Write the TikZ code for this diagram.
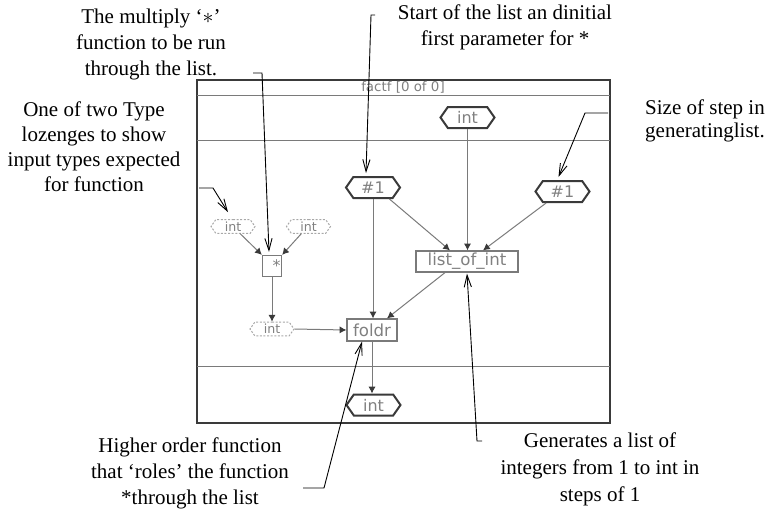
\documentclass[tikz,border=0pt]{standalone}
\usepackage{fontspec}
\setmainfont{Liberation Serif}
\newfontfamily\fcsans{DejaVu Sans}
\usetikzlibrary{calc,positioning,arrows.meta,shapes.symbols}
\definecolor{fcline}{HTML}{7A7A7A}
\definecolor{fcdark}{HTML}{3A3A3A}
\definecolor{fctext}{HTML}{808080}
\definecolor{fcdash}{HTML}{A8A8A8}
\tikzset{
 fc frame/.style={draw=fcdark,line width=.6pt},
 fc rule/.style={draw=fcline,line width=.5pt},
 fc lozenge/.style={signal,signal to=east and west,signal pointer angle=110,
                    draw=fcdark,line width=1pt,inner sep=0pt,
                    minimum width=27pt,minimum height=10.5pt,
                    font=\fcsans\fontsize{8}{9}\selectfont,text=fctext},
 fc type/.style={signal,signal to=east and west,signal pointer angle=110,
                 draw=fcdash,dash pattern=on 1pt off .8pt,line width=.5pt,
                 inner sep=0pt,minimum width=22pt,minimum height=6.8pt,
                 font=\fcsans\fontsize{6.3}{7}\selectfont,text=fctext},
 fc box/.style={draw=fcline,line width=.6pt,inner sep=0pt,
                font=\fcsans\fontsize{8.3}{9}\selectfont,text=fctext},
 fc flow/.style={draw=fcline,line width=.5pt,
                 -{Latex[length=3.4pt,width=3.6pt,color=fcdark]}},
 fc callout/.style={draw=black,line width=.45pt,
                    -{Straight Barb[length=6pt,width=3.6pt]}},
 fc note/.style={align=center,inner sep=0pt,font=\fontsize{10.5}{13}\selectfont}
}
\begin{document}
\begin{tikzpicture}[x=.5pt,y=-.5pt]
 \useasboundingbox (0,0) rectangle (765,520);
 % window of the function
 \draw[fc frame] (197,80) rectangle (610,423);
 \foreach \y in {95,140,366}{\draw[fc rule] (197,\y) -- (610,\y);}
 \node[font=\fcsans\fontsize{6.7}{8}\selectfont,text=fctext] (title)
   at (403,87.5) {factf [0 of 0]};
 % parameters, constants and results
 \node[fc lozenge] (tint) at (467.5,117.5) {int};
 \node[fc lozenge] (pa) at (373,187.5) {\#1};
 \node[fc lozenge] (pb) at (562.5,191.5) {\#1};
 \node[fc lozenge] (rint) at (373.5,405) {int};
 \node[fc box,minimum width=51pt,minimum height=10.5pt] (loi)
   at (467,261.5) {list\_of\_int};
 \node[fc box,minimum width=25pt,minimum height=11pt] (fold)
   at (372,330) {foldr};
 \node[fc box,minimum width=9.5pt,minimum height=10.5pt,
       label={[anchor=north east,inner sep=.5pt,yshift=-1.5pt,text=fctext,
               font=\fcsans\fontsize{8}{9}\selectfont]north east:*}] (mul)
   at (272,266) {};
 % type lozenges
 \node[fc type] (ta) at (233,226.5) {int};
 \node[fc type] (tb) at (308.5,226.5) {int};
 \node[fc type] (tc) at (272,329) {int};
 % data flow
 \draw[fc flow] (tint.south) -- (tint.south |- loi.north);
 \draw[fc flow] (pa.-35) -- ([xshift=-8.5pt]loi.north);
 \draw[fc flow] (pb.-145) -- ([xshift=8pt]loi.north);
 \draw[fc flow] (pa.south) -- (pa.south |- fold.north);
 \draw[fc flow] ([xshift=-11pt]loi.south) -- ([xshift=7.5pt]fold.north);
 \draw[fc flow] (ta.-45) -- (mul.north west);
 \draw[fc flow] (tb.-135) -- (mul.north east);
 \draw[fc flow] (mul.south) -- (mul.south |- tc.north);
 \draw[fc flow] (tc.east) -- (fold.west);
 \draw[fc flow] (fold.south) -- (fold.south |- rint.north);
 % notes
 \node[fc note] (nmul) at (151,44)
   {The multiply ‘$*$’\\function to be run\\through the list.};
 \node[fc note,font=\fontsize{10.5}{12.5}\selectfont] (ntype) at (94,147)
   {One of two Type\\lozenges to show\\input types expected\\for function};
 \node[fc note] (nstart) at (505,27)
   {Start of the list an dinitial\\first parameter for *};
 \node[fc note,font=\fontsize{10.5}{11.5}\selectfont] (nstep) at (705,121)
   {Size of step in\\generatinglist.};
 \node[fc note] (nfold) at (190,473)
   {Higher order function\\that ‘roles’ the function\\*through the list};
 \node[fc note,font=\fontsize{10.5}{13.5}\selectfont] (ngen) at (600,469)
   {Generates a list of\\integers from 1 to int in\\steps of 1};
 % callouts
 \coordinate (c1a) at (253,73);  \coordinate (c1b) at (262,73);
 \coordinate (c2a) at (199,188); \coordinate (c2b) at (213,188);
 \coordinate (c3a) at (375,15);  \coordinate (c3b) at (371,15);
 \coordinate (c4a) at (608,113); \coordinate (c4b) at (585,113);
 \coordinate (c5a) at (303,488); \coordinate (c5b) at (324,488);
 \coordinate (c6a) at (482,441); \coordinate (c6b) at (477,441);
 \draw[fc callout] (c1a) -- (c1b) -- ([xshift=-1.5pt,yshift=1.5pt]mul.north);
 \draw[fc callout] (c2a) -- (c2b) -- ([xshift=-2.5pt,yshift=3.5pt]ta.north);
 \draw[fc callout] (c3a) -- (c3b) -- ([xshift=-3.5pt,yshift=1.5pt]pa.north);
 \draw[fc callout] (c4a) -- (c4b) -- ([xshift=-2pt,yshift=1.5pt]pb.north);
 \draw[fc callout] (c5a) -- (c5b) -- ([xshift=-5pt]fold.south);
 \draw[fc callout] (c6a) -- (c6b) -- ([yshift=-.5pt]loi.south);
\end{tikzpicture}
\end{document}
